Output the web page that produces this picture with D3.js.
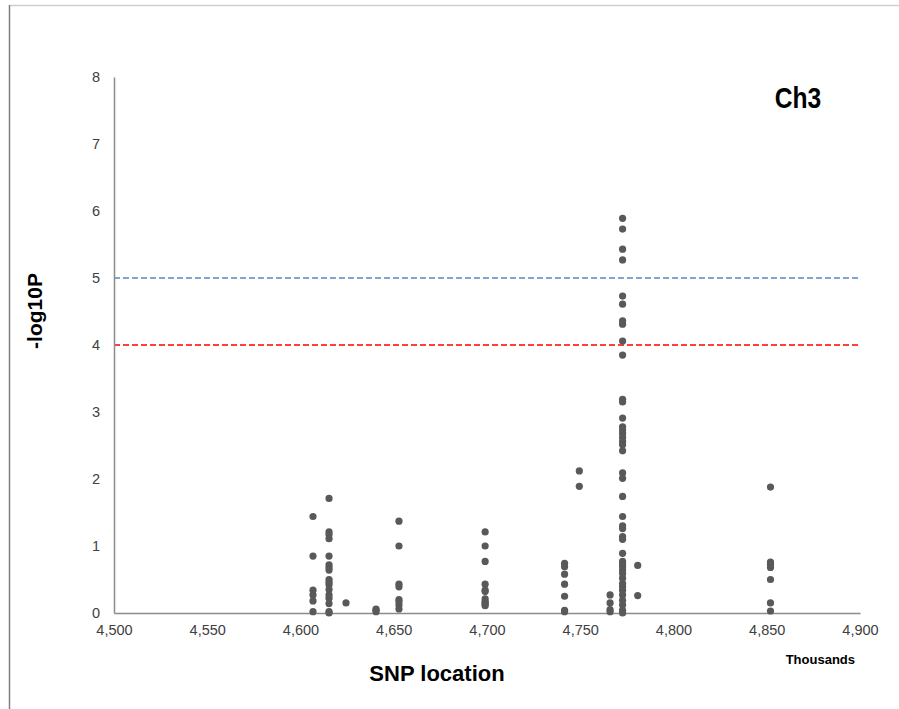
<!DOCTYPE html>
<html><head><meta charset="utf-8">
<script src="https://cdn.jsdelivr.net/npm/d3@7/dist/d3.min.js"></script>
<style>body{margin:0;background:#fff}svg{display:block}</style>
</head><body>
<script>
// SNP positions (thousands) and -log10P values, grouped by column
const positions = [4606.7, 4615.3, 4624.4, 4640.5, 4652.8, 4699.0, 4741.6, 4749.5, 4766.0, 4772.7, 4780.8, 4852.0];
const values = [
  [1.44, 0.85, 0.34, 0.27, 0.18, 0.02],
  [1.71, 1.21, 1.17, 1.11, 0.85, 0.72, 0.68, 0.64, 0.50, 0.46, 0.42, 0.35, 0.27, 0.22, 0.14, 0.02, 0.00],
  [0.15],
  [0.06, 0.04, 0.02],
  [1.37, 1.00, 0.43, 0.39, 0.20, 0.17, 0.12, 0.06],
  [1.21, 1.00, 0.77, 0.43, 0.34, 0.32, 0.21, 0.17, 0.15, 0.13, 0.11],
  [0.74, 0.69, 0.58, 0.43, 0.25, 0.04, 0.02],
  [2.12, 1.89],
  [0.27, 0.15, 0.05, 0.02],
  [5.89, 5.73, 5.43, 5.27, 4.73, 4.61, 4.36, 4.31, 4.06, 3.85, 3.19, 3.15, 2.91, 2.78, 2.73, 2.68, 2.62, 2.56, 2.51, 2.42, 2.09, 2.01, 1.74, 1.44, 1.30, 1.26, 1.14, 1.10, 0.89, 0.77, 0.73, 0.69, 0.64, 0.59, 0.52, 0.44, 0.39, 0.34, 0.27, 0.19, 0.12, 0.04, 0.00],
  [0.71, 0.26],
  [1.88, 0.76, 0.72, 0.68, 0.50, 0.15, 0.03]
];
const xTicks = [4500, 4550, 4600, 4650, 4700, 4750, 4800, 4850, 4900];
const yTicks = [0, 1, 2, 3, 4, 5, 6, 7, 8];
const thresholds = [5, 4];
const thresholdColors = ["#5b84c8", "#ff0000"];

const W = 899, H = 709;
const svg = d3.select("body").append("svg").attr("width", W).attr("height", H);

// outer frame
svg.append("line").attr("x1", 9).attr("x2", W).attr("y1", 5.5).attr("y2", 5.5).attr("stroke", "#d0d0d0").attr("stroke-width", 1.5);
svg.append("line").attr("x1", 9.5).attr("x2", 9.5).attr("y1", 5).attr("y2", H).attr("stroke", "#808080").attr("stroke-width", 1.5);

const x = d3.scaleLinear().domain([4500, 4900]).range([114, 860]);
const y = d3.scaleLinear().domain([0, 8]).range([613, 77]);

// threshold lines
thresholds.forEach((t, i) => {
  svg.append("line").attr("x1", x(4500)).attr("x2", x(4900)).attr("y1", y(t)).attr("y2", y(t))
    .attr("stroke", thresholdColors[i]).attr("stroke-width", 1.6).attr("stroke-dasharray", "6,3");
});

// axes
const xAxis = d3.axisBottom(x).tickValues(xTicks).tickSize(0).tickPadding(12).tickFormat(d3.format(","));
const gx = svg.append("g").attr("transform", `translate(0,${y(0)})`).call(xAxis);
const yAxis = d3.axisLeft(y).tickValues(yTicks).tickSize(0).tickPadding(14).tickFormat(d3.format("d"));
const gy = svg.append("g").attr("transform", `translate(${x(4500)},0)`).call(yAxis);
[gx, gy].forEach(g => {
  g.select(".domain").attr("stroke", "#8c8c8c").attr("stroke-width", 1.5);
  g.selectAll("text").attr("font-family", "Liberation Sans, Arial, sans-serif").attr("font-size", 14.5).attr("fill", "#404040");
});

// points
const pts = [];
positions.forEach((p, i) => values[i].forEach(v => pts.push({p, v})));
svg.append("g").selectAll("circle").data(pts).join("circle")
  .attr("cx", d => x(d.p)).attr("cy", d => y(d.v)).attr("r", 3.6).attr("fill", "#595959");

// labels
svg.append("text").attr("x", 437).attr("y", 681).attr("text-anchor", "middle")
  .attr("font-family", "Liberation Sans, Arial, sans-serif").attr("font-weight", "bold").attr("font-size", 22)
  .attr("fill", "#000").text("SNP location");
svg.append("text").attr("transform", "translate(42,311) rotate(-90)").attr("text-anchor", "middle")
  .attr("font-family", "Liberation Sans, Arial, sans-serif").attr("font-weight", "bold").attr("font-size", 21)
  .attr("fill", "#000").text("-log10P");
svg.append("text").attr("x", 855).attr("y", 664).attr("text-anchor", "end")
  .attr("font-family", "Liberation Sans, Arial, sans-serif").attr("font-weight", "bold").attr("font-size", 13)
  .attr("fill", "#000").text("Thousands");
svg.append("text").attr("transform", "translate(798,108) scale(0.82,1)").attr("text-anchor", "middle")
  .attr("font-family", "Liberation Sans, Arial, sans-serif").attr("font-weight", "bold").attr("font-size", 30)
  .attr("fill", "#000").text("Ch3");
</script>
</body></html>
